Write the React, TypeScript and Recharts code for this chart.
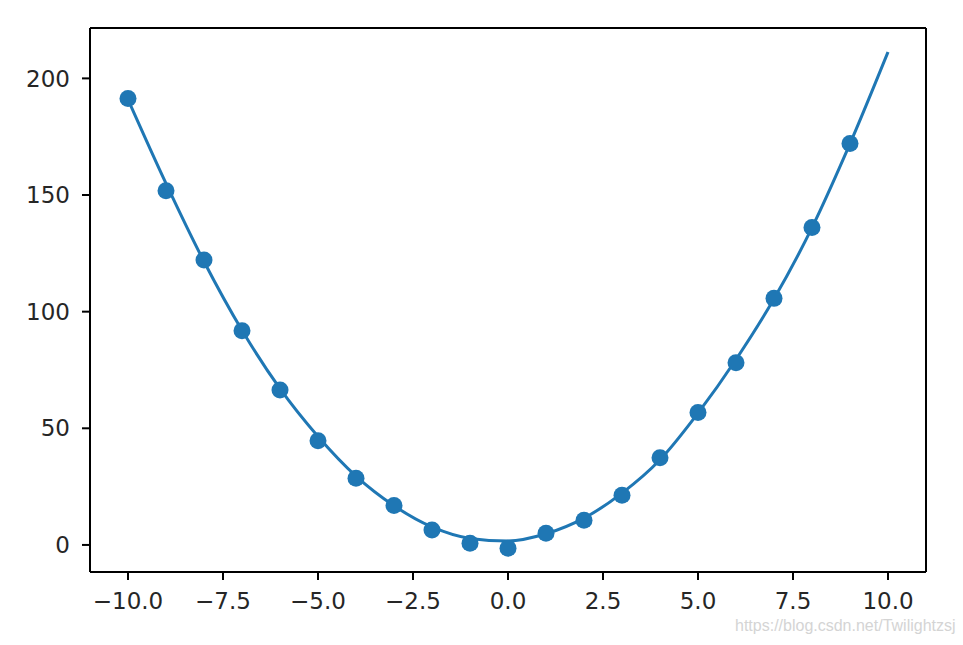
import React from 'react';
import { ComposedChart, Line, Scatter, XAxis, YAxis, ReferenceLine } from 'recharts';

// scatter points
const pointX = [-10, -9, -8, -7, -6, -5, -4, -3, -2, -1, 0, 1, 2, 3, 4, 5, 6, 7, 8, 9];
const pointY = [191.4, 151.8, 122.1, 91.8, 66.4, 44.7, 28.6, 16.9, 6.4, 0.7, -1.4, 5.0, 10.6, 21.3, 37.4, 56.8, 78.1, 105.7, 136.1, 172.1];

// fitted curve, read at each integer
const curveX = [-10, -9, -8, -7, -6, -5, -4, -3, -2, -1, 0, 1, 2, 3, 4, 5, 6, 7, 8, 9, 10];
const curveY = [191, 155, 121.5, 92, 67, 46.5, 29.5, 16.8, 7.7, 2.8, 1.7, 4.8, 11.5, 22.2, 36.5, 56.5, 79.5, 105.5, 136, 172, 211.3];

const xTicks = [-10, -7.5, -5, -2.5, 0, 2.5, 5, 7.5, 10];
const yTicks = [0, 50, 100, 150, 200];
const xDomain = [-11, 11];
const yDomain = [-11.6, 221.6];

const points = pointX.map((x, i) => ({ x, y: pointY[i] }));
const curve = curveX.map((x, i) => ({ x, y: curveY[i] }));

const blue = '#1f77b4';
const font = { fontFamily: 'DejaVu Sans', fontSize: 23, fill: '#262626' };
const spine = { stroke: '#000', strokeWidth: 2 };
const fmtX = (v: number) => v.toFixed(1).replace('-', '\u2212');

export default function App() {
  return (
    <div style={{ position: 'absolute', left: 0, top: 0, width: 963, height: 645, background: '#fff' }}>
      <ComposedChart
        width={963}
        height={645}
        margin={{ top: 28, right: 37, left: 10, bottom: 23 }}
      >
        <XAxis
          dataKey="x"
          type="number"
          domain={xDomain}
          ticks={xTicks}
          tickFormatter={fmtX}
          allowDataOverflow
          height={50}
          tickSize={8}
          tickMargin={13}
          tick={font}
          axisLine={spine}
          tickLine={spine}
        />
        <YAxis
          type="number"
          domain={yDomain}
          ticks={yTicks}
          allowDataOverflow
          width={80}
          tickSize={8}
          tickMargin={12}
          tick={font}
          axisLine={spine}
          tickLine={spine}
        />
        <ReferenceLine y={yDomain[1]} stroke="#000" strokeWidth={2} />
        <ReferenceLine x={xDomain[1]} stroke="#000" strokeWidth={2} />
        <Line
          data={curve}
          dataKey="y"
          type="monotone"
          stroke={blue}
          strokeWidth={3}
          dot={false}
          activeDot={false}
          isAnimationActive={false}
        />
        <Scatter
          data={points}
          dataKey="y"
          fill={blue}
          shape={(p: any) => <circle cx={p.cx} cy={p.cy} r={8.5} fill={blue} />}
          isAnimationActive={false}
        />
      </ComposedChart>
      <div
        style={{
          position: 'absolute',
          left: 735,
          top: 617,
          fontFamily: 'Liberation Sans',
          fontSize: 16,
          color: '#d4d4d4',
          whiteSpace: 'nowrap',
        }}
      >
        https://blog.csdn.net/Twilightzsj
      </div>
    </div>
  );
}
